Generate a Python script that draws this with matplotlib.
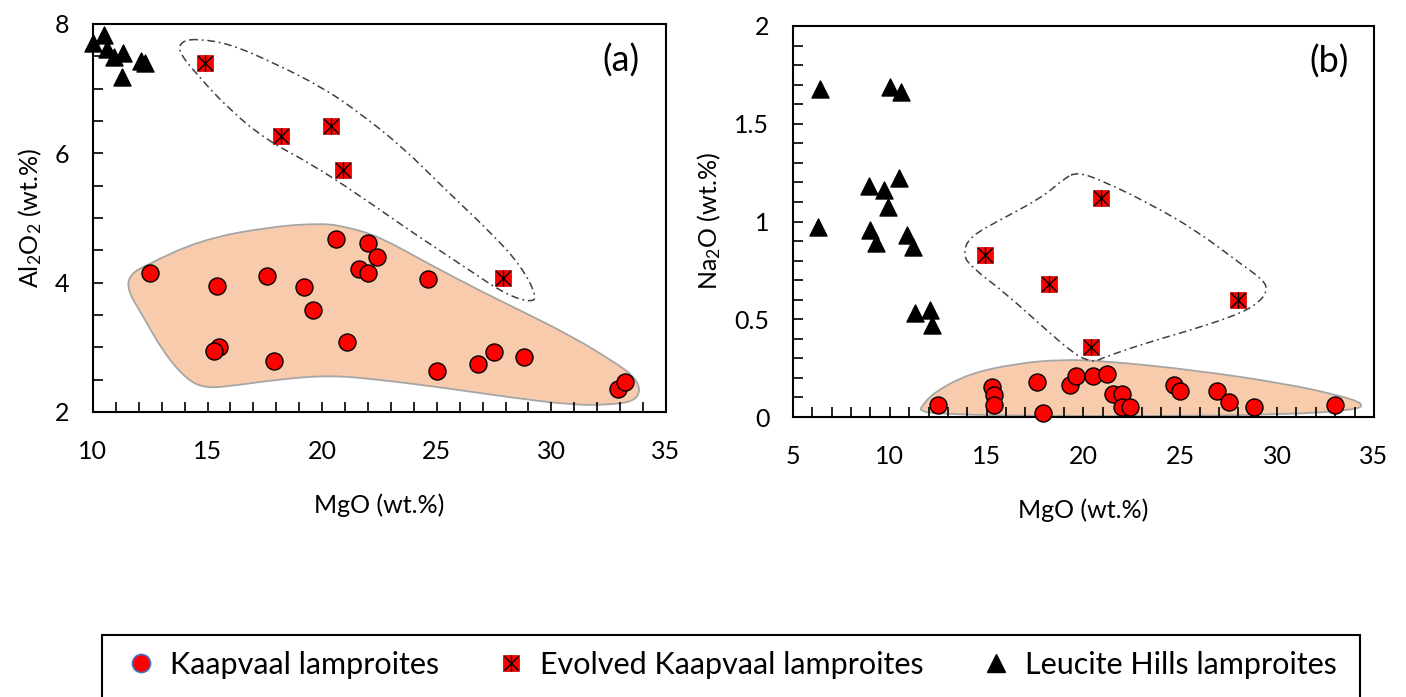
import numpy as np
import matplotlib
matplotlib.use("Agg")
import matplotlib.pyplot as plt
from matplotlib.path import Path
from matplotlib.patches import PathPatch, Rectangle
from matplotlib.lines import Line2D
from matplotlib.legend_handler import HandlerTuple
from matplotlib.ticker import MultipleLocator, FuncFormatter

plt.rcParams['font.family'] = ['Lato', 'DejaVu Sans']
plt.rcParams['mathtext.default'] = 'regular'

#data panel (a): MgO vs Al2O3
kaap_mgo_a = [12.5, 15.4, 15.5, 15.3, 17.6, 17.9, 19.2, 19.6, 20.6, 21.1, 21.6,
              22.0, 22.0, 22.4, 24.6, 25.0, 26.8, 27.5, 28.8, 32.9, 33.2]
kaap_al = [4.15, 3.95, 3.01, 2.95, 4.11, 2.79, 3.93, 3.58, 4.67, 3.08, 4.21,
           4.61, 4.15, 4.39, 4.06, 2.63, 2.74, 2.93, 2.85, 2.35, 2.47]
evol_mgo_a = [14.9, 18.2, 20.4, 20.9, 27.9]
evol_al = [7.40, 6.27, 6.42, 5.74, 4.07]
lh_mgo_a = [10.0, 10.5, 10.6, 10.9, 11.3, 11.25, 12.1, 12.25]
lh_al = [7.71, 7.83, 7.62, 7.49, 7.55, 7.18, 7.43, 7.40]

#data panel (b): MgO vs Na2O
kaap_mgo_b = [12.5, 15.3, 15.4, 15.4, 17.6, 17.9, 19.3, 19.6, 20.5, 21.2,
              21.5, 22.0, 22.0, 22.4, 24.7, 25.0, 26.9, 27.5, 28.8, 33.0]
kaap_na = [0.063, 0.154, 0.111, 0.060, 0.179, 0.022, 0.162, 0.208, 0.208, 0.218,
           0.119, 0.119, 0.051, 0.051, 0.162, 0.133, 0.133, 0.077, 0.051, 0.060]
evol_mgo_b = [14.9, 18.2, 20.9, 28.0, 20.4]
evol_na = [0.83, 0.68, 1.12, 0.60, 0.36]
lh_mgo_b = [6.4, 10.0, 10.6, 6.3, 8.9, 9.7, 10.5, 9.9, 9.0, 9.3, 10.9, 11.2,
            11.3, 12.05, 12.2]
lh_na = [1.68, 1.69, 1.66, 0.97, 1.18, 1.16, 1.22, 1.075, 0.956, 0.89, 0.93, 0.87,
         0.534, 0.546, 0.469]

#outlines of the fields drawn round the groups
field_a = [(12.3, 4.27), (14.7, 4.66), (17.6, 4.86), (20.0, 4.92), (21.1, 4.86),
           (22.5, 4.71), (24.6, 4.30), (26.8, 3.89), (28.3, 3.63), (30.9, 3.17),
           (32.8, 2.76), (33.6, 2.55), (33.9, 2.34), (33.6, 2.16), (32.4, 2.11),
           (30.9, 2.11), (28.3, 2.22), (25.4, 2.37), (22.5, 2.50), (20.3, 2.57),
           (18.0, 2.50), (16.0, 2.40), (14.9, 2.37), (14.1, 2.50), (13.1, 2.91),
           (12.1, 3.53), (11.5, 3.89), (11.6, 4.12)]
loop_a = [(14.6, 7.77), (16.0, 7.69), (18.0, 7.38), (20.0, 7.02), (21.5, 6.66),
          (23.5, 6.10), (25.4, 5.43), (27.4, 4.76), (28.7, 4.25), (29.4, 3.76),
          (29.0, 3.70), (27.9, 3.84), (26.4, 4.20), (24.0, 4.76), (21.5, 5.38),
          (19.5, 5.84), (17.6, 6.20), (16.0, 6.66), (14.5, 7.23), (13.7, 7.59),
          (13.9, 7.74)]
field_b = [(11.6, 0.051), (12.3, 0.128), (14.1, 0.222), (16.5, 0.273), (18.8, 0.294),
           (21.1, 0.287), (25.8, 0.239), (30.4, 0.171), (33.2, 0.111), (34.5, 0.068),
           (34.1, 0.036), (30.4, 0.012), (23.4, 0.004), (16.5, 0.006), (12.3, 0.017),
           (11.6, 0.031)]
loop_b = [(19.7, 1.254), (21.1, 1.203), (23.4, 1.092), (25.8, 0.956), (28.1, 0.785),
          (29.3, 0.70), (29.5, 0.648), (29.1, 0.589), (28.1, 0.529), (25.8, 0.452),
          (23.4, 0.384), (21.1, 0.307), (20.65, 0.285), (20.2, 0.29), (19.5, 0.324),
          (17.9, 0.461), (16.0, 0.631), (14.1, 0.776), (13.8, 0.836), (14.1, 0.922),
          (16.0, 1.024), (17.9, 1.126), (19.0, 1.22)]


def smooth_path(pts):
    p = np.array(pts, dtype=float)
    m = (p + np.roll(p, -1, axis=0)) / 2
    verts = [m[-1]]
    codes = [Path.MOVETO]
    for i in range(len(p)):
        verts += [p[i], m[i]]
        codes += [Path.CURVE3, Path.CURVE3]
    return Path(verts, codes)


def draw_groups(ax, kx, ky, ex, ey, lx, ly, field, loop):
    ax.add_patch(PathPatch(smooth_path(field), facecolor="#F8CBAD",
                           edgecolor="#A6A6A6", lw=1.3, zorder=1))
    ax.add_patch(PathPatch(smooth_path(loop), facecolor="none", edgecolor="#404040",
                           lw=1.1, linestyle=(0, (5, 2.5, 1.2, 2.5)), zorder=2))
    ax.scatter(kx, ky, s=150, c="red", edgecolors="black", linewidths=1, zorder=3,
               clip_on=False)
    ax.scatter(ex, ey, s=140, marker="s", c="red", edgecolors="#C00000",
               linewidths=0.5, zorder=3, clip_on=False)
    ax.scatter(ex, ey, s=110, marker="x", c="black", linewidths=1.0, zorder=4)
    ax.scatter(ex, ey, s=130, marker="|", c="black", linewidths=1.0, zorder=4)
    ax.scatter(lx, ly, s=150, marker="^", c="black", zorder=3, clip_on=False)


def style_axes(ax, ymaj, ymin):
    ax.xaxis.set_major_locator(MultipleLocator(5))
    ax.xaxis.set_minor_locator(MultipleLocator(1))
    ax.yaxis.set_major_locator(MultipleLocator(ymaj))
    ax.yaxis.set_minor_locator(MultipleLocator(ymin))
    ax.yaxis.set_major_formatter(FuncFormatter(lambda v, p: "%g" % v))
    ax.tick_params(which="both", direction="in", top=False, right=False,
                   length=7, width=1.2, labelsize=18)
    ax.tick_params(axis="x", pad=20)
    ax.tick_params(axis="y", pad=17)
    for s in ax.spines.values():
        s.set_linewidth(1.5)
    ax.set_xlabel("MgO (wt.%)", fontsize=18, labelpad=22)


fig = plt.figure(figsize=(14.06, 6.97), dpi=100)

ax1 = fig.add_axes([0.0661, 0.4089, 0.4076, 0.5567])
draw_groups(ax1, kaap_mgo_a, kaap_al, evol_mgo_a, evol_al, lh_mgo_a, lh_al, field_a, loop_a)
ax1.set_xlim(10, 35)
ax1.set_ylim(2, 8)
style_axes(ax1, 2, 0.5)
ax1.set_ylabel("Al$_2$O$_2$ (wt.%)", fontsize=18, labelpad=8)
ax1.text(0.922, 0.905, "(a)", transform=ax1.transAxes, fontsize=26, ha="center", va="center")

ax2 = fig.add_axes([0.564, 0.4017, 0.4132, 0.561])
draw_groups(ax2, kaap_mgo_b, kaap_na, evol_mgo_b, evol_na, lh_mgo_b, lh_na, field_b, loop_b)
ax2.set_xlim(5, 35)
ax2.set_ylim(0, 2)
style_axes(ax2, 0.5, 0.1)
ax2.set_ylabel("Na$_2$O (wt.%)", fontsize=18, labelpad=8)
ax2.text(0.922, 0.91, "(b)", transform=ax2.transAxes, fontsize=26, ha="center", va="center")

#legend under the panels, frame runs off the bottom edge
h1 = Line2D([], [], ls="none", marker="o", ms=13, mfc="red", mec="#4472C4", mew=1.2)
h2 = (Line2D([], [], ls="none", marker="s", ms=12, mfc="red", mec="#C00000", mew=0.5),
      Line2D([], [], ls="none", marker="x", ms=10, color="black", mew=1.0),
      Line2D([], [], ls="none", marker="|", ms=12, color="black", mew=1.0))
h3 = Line2D([], [], ls="none", marker="^", ms=13, color="black")
fig.legend([h1, h2, h3], ["Kaapvaal lamproites", "Evolved Kaapvaal lamproites",
                          "Leucite Hills lamproites"],
           handler_map={tuple: HandlerTuple(ndivide=1)}, loc="center",
           bbox_to_anchor=(0.520, 0.046), ncol=3, frameon=False, fontsize=22,
           handlelength=1.0, handletextpad=0.46, columnspacing=1.85)
fig.add_artist(Rectangle((102 / 1406, -0.1), 1258 / 1406, 0.189, transform=fig.transFigure,
                         fill=False, edgecolor="black", lw=1.5))

fig.savefig("out.png", dpi=100)
